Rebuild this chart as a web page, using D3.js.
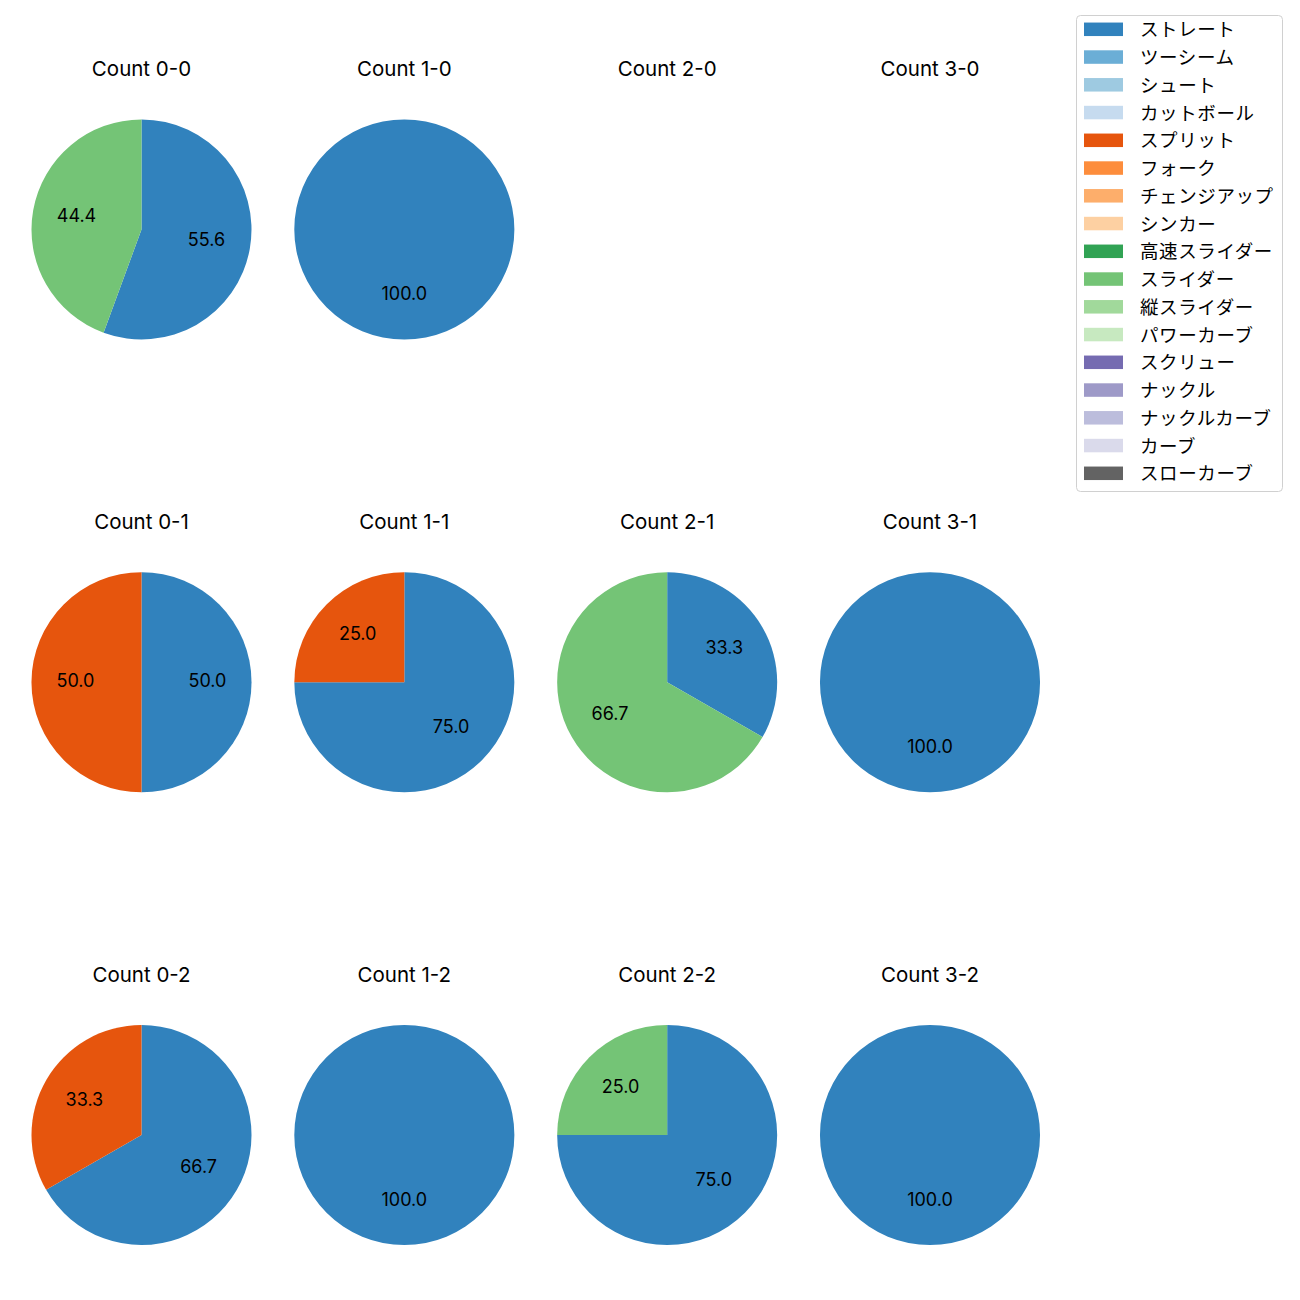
<!DOCTYPE html>
<html>
<head>
<meta charset="utf-8">
<script src="https://cdn.jsdelivr.net/npm/d3@7"></script>
<style>
  html, body { margin: 0; padding: 0; background: #ffffff; }
  svg { display: block; }
  text { fill: #000; }
  .latin { font-family: Inter, "Noto Sans", sans-serif; }
  .cjk { font-family: "Noto Sans CJK JP", "Noto Sans", sans-serif; }
</style>
</head>
<body>
<svg id="chart" width="1300" height="1300"></svg>
<script>
// ---- data ----
const pitchTypes = ["ストレート","ツーシーム","シュート","カットボール","スプリット","フォーク","チェンジアップ","シンカー","高速スライダー","スライダー","縦スライダー","パワーカーブ","スクリュー","ナックル","ナックルカーブ","カーブ","スローカーブ"];
const pitchColors = ["#3182bd","#6baed6","#9ecae1","#c6dbef","#e6550d","#fd8d3c","#fdae6b","#fdd0a2","#31a354","#74c476","#a1d99b","#c7e9c0","#756bb1","#9e9ac8","#bcbddc","#dadaeb","#636363"];
const countLabels = ["0-0","1-0","2-0","3-0","0-1","1-1","2-1","3-1","0-2","1-2","2-2","3-2"];
// percentage share per count (same order as countLabels)
const straightValues = [55.6, 100, 0, 0, 50.0, 75.0, 33.3, 100, 66.7, 100, 75.0, 100];
const splitValues    = [0,    0,   0, 0, 50.0, 25.0, 0,    0,   33.3, 0,   0,    0];
const sliderValues   = [44.4, 0,   0, 0, 0,    0,    66.7, 0,   0,    0,   25.0, 0];
const seriesByPitch = { "ストレート": straightValues, "スプリット": splitValues, "スライダー": sliderValues };

// ---- layout ----
const svg = d3.select("#chart");
const colX = d3.scalePoint().domain([0,1,2,3]).range([141.5, 930]);
const rowY = d3.scalePoint().domain([0,1,2]).range([229.5, 1135]);
const radius = 110;
const color = d3.scaleOrdinal().domain(pitchTypes).range(pitchColors);

const pie = d3.pie().sort(null).value(d => d.value);
const arc = d3.arc().innerRadius(0).outerRadius(radius);
const labelArc = d3.arc().innerRadius(radius * 0.6).outerRadius(radius * 0.6);

countLabels.forEach((cl, i) => {
  const col = i % 4, row = Math.floor(i / 4);
  const g = svg.append("g").attr("transform", `translate(${colX(col)},${rowY(row)})`);
  g.append("text")
    .attr("class", "latin")
    .attr("x", 0).attr("y", -161)
    .attr("text-anchor", "middle")
    .attr("dominant-baseline", "central")
    .style("font-size", "20.5px")
    .text("Count " + cl);
  const data = pitchTypes
    .filter(p => seriesByPitch[p])
    .map(p => ({ pitch: p, value: seriesByPitch[p][i] }))
    .filter(d => d.value > 0);
  if (!data.length) return;
  const arcs = pie(data);
  g.selectAll("path.slice").data(arcs).enter().append("path")
    .attr("class", "slice")
    .attr("d", arc)
    .attr("fill", d => color(d.data.pitch));
  g.selectAll("text.lbl").data(arcs).enter().append("text")
    .attr("class", "lbl latin")
    .attr("transform", d => { const c = labelArc.centroid(d); return `translate(${c[0]},${c[1] - 2})`; })
    .attr("text-anchor", "middle")
    .attr("dominant-baseline", "central")
    .style("font-size", "18px")
    .text(d => d.data.value.toFixed(1));
});

// ---- legend ----
const leg = svg.append("g");
leg.append("rect")
  .attr("x", 1076.5).attr("y", 15.5).attr("width", 206).attr("height", 476)
  .attr("rx", 4).attr("fill", "#fff").attr("stroke", "#d0d0d0").attr("stroke-width", 1);
const legY = d3.scaleLinear().domain([0, pitchTypes.length - 1]).range([29.3, 473.3]);
pitchTypes.forEach((p, i) => {
  leg.append("rect")
    .attr("x", 1084).attr("y", legY(i) - 6.75).attr("width", 39).attr("height", 13.5)
    .attr("fill", color(p));
  leg.append("text")
    .attr("class", "cjk")
    .attr("x", 1140).attr("y", legY(i) - 1)
    .attr("dominant-baseline", "central")
    .style("font-size", "18.5px")
    .style("letter-spacing", "0.6px")
    .text(p);
});
</script>
</body>
</html>
